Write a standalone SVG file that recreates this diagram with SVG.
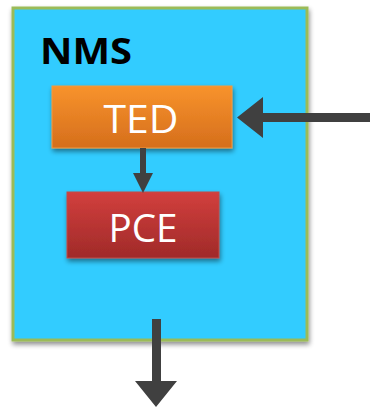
<svg xmlns="http://www.w3.org/2000/svg" width="370" height="409" viewBox="0 0 370 409">
<defs>
<linearGradient id="gOrange" x1="0" y1="0" x2="0" y2="1">
<stop offset="0" stop-color="#F8932C"/>
<stop offset="1" stop-color="#D56E1C"/>
</linearGradient>
<linearGradient id="gRed" x1="0" y1="0" x2="0" y2="1">
<stop offset="0" stop-color="#D23F3D"/>
<stop offset="1" stop-color="#A02A29"/>
</linearGradient>
<filter id="shadow" x="-10%" y="-10%" width="130%" height="140%">
<feGaussianBlur in="SourceAlpha" stdDeviation="2.5"/>
<feOffset dx="1" dy="3" result="b"/>
<feComponentTransfer><feFuncA type="linear" slope="0.45"/></feComponentTransfer>
<feMerge><feMergeNode/><feMergeNode in="SourceGraphic"/></feMerge>
</filter>
</defs>
<style>
.lbl{font-family:"Open Sans","Liberation Sans",sans-serif;fill:#fff;font-size:38px;text-anchor:middle}
.arrow{fill:#404040}
</style>
<g id="NMS">
<rect x="13" y="8" width="294" height="332" fill="#33CCFF" stroke="#9BBB59" stroke-width="3" filter="url(#shadow)"/>
<text x="40" y="64" font-family="'Open Sans','Liberation Sans',sans-serif" font-weight="bold" font-size="36" fill="#000" textLength="92" lengthAdjust="spacingAndGlyphs">NMS</text>
</g>
<g id="TED">
<rect x="52" y="86" width="180" height="62" fill="url(#gOrange)" stroke="#F29A3E" stroke-width="1" filter="url(#shadow)"/>
<text class="lbl" x="141" y="133" textLength="75" lengthAdjust="spacingAndGlyphs">TED</text>
</g>
<g id="PCE">
<rect x="67" y="192" width="152" height="66" fill="url(#gRed)" stroke="#C04A48" stroke-width="1" filter="url(#shadow)"/>
<text class="lbl" x="143" y="242" textLength="69" lengthAdjust="spacingAndGlyphs">PCE</text>
</g>
<g id="connectors">
<path class="arrow" d="M370 113 L263 113 L263 97 L237 117.5 L263 138 L263 122 L370 122 Z"/>
<path class="arrow" d="M140 148 L146 148 L146 173 L153 173 L143 193 L133 173 L140 173 Z"/>
<path class="arrow" d="M152 319 L161 319 L161 381 L177 381 L156 407 L135 381 L152 381 Z"/>
</g>
</svg>
